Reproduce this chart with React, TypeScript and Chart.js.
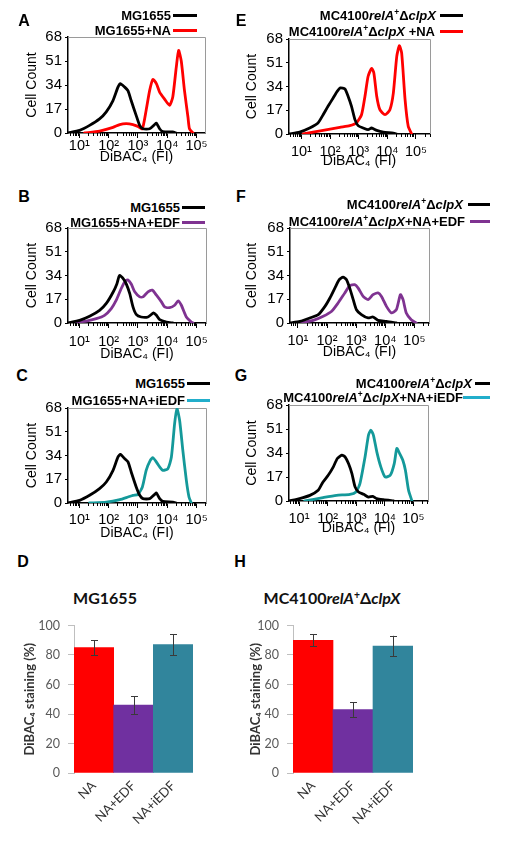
import React, { useEffect, useRef } from "react";
import { Chart, registerables } from "chart.js";

Chart.register(...registerables);

// ---------------- Histogram data (x = log10 DiBAC4 fluorescence, y = cell count) ----------------
// Panel A
const aCtrlX = [0.61, 1.01, 1.35, 1.69, 1.92, 2.15, 2.32, 2.4, 2.55, 2.66, 2.77, 2.94, 3.06, 3.17, 3.4, 3.57, 3.63, 3.74, 3.85, 4.19, 4.31];
const aCtrlY = [0, 1.9, 5.4, 10, 15, 23, 32.5, 35, 32.5, 30, 23, 12.5, 5.4, 3, 3, 6, 7, 3, 1, 0.7, 0];
const aNaX = [1.18, 1.69, 2.15, 2.38, 2.6, 2.83, 3.0, 3.15, 3.28, 3.4, 3.51, 3.63, 3.74, 3.91, 4.08, 4.19, 4.31, 4.39, 4.48, 4.59, 4.71, 4.76, 4.88];
const aNaY = [0, 1.4, 4, 6, 6.6, 6, 4.7, 3, 16, 30, 38, 35, 29, 24, 19.6, 25.5, 46.7, 58.5, 51, 30, 11, 3, 0];
// Panel E
const eCtrlX = [0.57, 0.94, 1.29, 1.58, 1.76, 1.93, 2.11, 2.25, 2.36, 2.52, 2.63, 2.75, 2.87, 2.98, 3.16, 3.33, 3.45, 3.63, 3.86, 4.21, 4.33];
const eCtrlY = [0, 1.4, 4.3, 7.9, 13.8, 19.8, 25.8, 30.5, 33, 32.2, 27, 19.8, 10.3, 6, 4.3, 3.1, 4.3, 2.6, 1.4, 0.7, 0];
const eNaX = [1.06, 1.76, 2.34, 2.69, 2.92, 3.1, 3.22, 3.33, 3.45, 3.53, 3.63, 3.74, 3.92, 4.09, 4.21, 4.33, 4.42, 4.5, 4.62, 4.73, 4.85];
const eNaY = [0, 2.6, 4.8, 6, 7.9, 13.8, 27, 41.3, 47, 43.7, 27, 17.4, 13.8, 17.4, 29.3, 55.6, 63.2, 58, 24.6, 5.5, 0];
// Panel B
const bCtrlX = [0.61, 1.01, 1.35, 1.69, 1.92, 2.15, 2.28, 2.37, 2.49, 2.6, 2.72, 2.83, 2.94, 3.11, 3.34, 3.53, 3.63, 3.74, 3.97, 4.19];
const bCtrlY = [0, 1.9, 4.8, 9, 14, 22, 28, 34, 32, 28, 21, 11.5, 6.2, 4.3, 4.3, 7.2, 5.5, 2.4, 0.7, 0];
const bEdfX = [0.73, 1.24, 1.58, 1.86, 2.09, 2.26, 2.43, 2.58, 2.66, 2.77, 2.89, 3.06, 3.17, 3.34, 3.49, 3.63, 3.8, 3.91, 4.08, 4.25, 4.37, 4.48, 4.65, 4.82, 4.88];
const bEdfY = [0, 1.4, 3.1, 5.5, 10.3, 16.3, 24.7, 30.3, 30.8, 27.9, 22.3, 18.7, 18.7, 22.3, 23.5, 19.9, 15.1, 11.5, 11, 12.7, 15.9, 12.7, 4.3, 0.7, 0];
// Panel F
const fCtrlX = [0.73, 1.07, 1.41, 1.7, 1.93, 2.1, 2.27, 2.42, 2.55, 2.67, 2.78, 2.9, 3.01, 3.18, 3.41, 3.58, 3.75, 4.04, 4.38];
const fCtrlY = [0, 1.2, 3.6, 6, 11.9, 17.9, 25, 31, 32.9, 31, 25, 16.7, 9.5, 6, 3.6, 4.3, 1.9, 1.2, 0];
const fEdfX = [1.07, 1.53, 1.87, 2.16, 2.38, 2.61, 2.78, 2.95, 3.07, 3.24, 3.41, 3.58, 3.75, 3.87, 4.04, 4.21, 4.38, 4.52, 4.61, 4.72, 4.89, 5.06];
const fEdfY = [0, 1.9, 4.8, 8.4, 14.3, 21.5, 26.7, 27.4, 25, 19, 16.7, 20.3, 21.5, 19, 11.9, 7.2, 9.5, 20.3, 16.7, 7.2, 2.4, 0];
// Panel C
const cCtrlX = [0.61, 1.01, 1.35, 1.69, 1.92, 2.15, 2.32, 2.4, 2.55, 2.66, 2.77, 2.94, 3.06, 3.17, 3.4, 3.57, 3.63, 3.74, 3.85, 4.19, 4.31];
const cCtrlY = [0, 1.9, 5.5, 10.3, 15, 23.4, 33, 34.8, 31.7, 29.4, 22.2, 11.5, 5.5, 3.1, 3.1, 6.2, 7.2, 3.1, 1.2, 0.7, 0];
const cIedfX = [1.35, 1.92, 2.38, 2.66, 2.83, 3.0, 3.15, 3.28, 3.42, 3.51, 3.63, 3.74, 3.85, 4.02, 4.14, 4.25, 4.33, 4.42, 4.53, 4.65, 4.74, 4.82];
const cIedfY = [0, 0.7, 2.4, 4.3, 5.5, 6.2, 11.5, 23.4, 30.5, 32.4, 29.3, 25.8, 23.4, 24.6, 32.9, 56.8, 67.5, 59.2, 37.7, 16.2, 4.3, 0];
// Panel G
const gCtrlX = [0.65, 1.02, 1.38, 1.67, 1.84, 2.02, 2.2, 2.34, 2.5, 2.61, 2.73, 2.85, 2.96, 3.08, 3.26, 3.43, 3.58, 3.72, 3.95, 4.31];
const gCtrlY = [0, 1.7, 4, 7.6, 13.5, 18.2, 24.2, 30.1, 32.5, 31.3, 26.5, 19.4, 10, 6.4, 4.7, 2.8, 3.3, 1.7, 0.9, 0];
const gIedfX = [1.2, 1.84, 2.31, 2.78, 2.99, 3.13, 3.31, 3.43, 3.51, 3.6, 3.72, 3.86, 4.01, 4.19, 4.33, 4.42, 4.52, 4.63, 4.72, 4.83, 4.95];
const gIedfY = [0, 2.4, 4, 4.7, 6.4, 12.3, 31.3, 46.7, 50.2, 46.7, 34.8, 24.2, 17, 18.2, 26.5, 37.2, 33.6, 28.9, 21.8, 7.6, 0];

const countTicks = [0, 17, 34, 51, 68];
const decadeTicks = [1, 2, 3, 4, 5];
const decadeLabels = ["10\u00B9", "10\u00B2", "10\u00B3", "10\u2074", "10\u2075"];

// ---------------- Bar data ----------------
const barCategories = ["NA", "NA+EDF", "NA+iEDF"];
const dValues = [85, 46, 87];
const dErrors = [5, 6, 7];
const hValues = [90, 43, 86];
const hErrors = [4, 5, 7];
const stainTicks = [0, 20, 40, 60, 80, 100];

// ---------------- Styles ----------------
const BLACK = "#000000";
const RED = "#FF0000";
const PURPLE = "#7F3391";
const TEAL = "#14999A";
const TEAL_LEG = "#22AECB";
const BAR_COLORS = ["#FF0000", "#7030A0", "#31859C"];
const SANS = '"Liberation Sans", Arial, Helvetica, sans-serif';
const LATO = 'Lato, "Open Sans", sans-serif';

const framePlugin = {
  id: "frame",
  beforeDatasetsDraw(chart: any) {
    const { ctx, chartArea } = chart;
    const { left, top, right, bottom } = chartArea;
    ctx.save();
    ctx.strokeStyle = "#9a9a9a";
    ctx.lineWidth = 1;
    ctx.beginPath();
    ctx.moveTo(left, Math.round(top) + 0.5);
    ctx.lineTo(Math.round(right) + 0.5, Math.round(top) + 0.5);
    ctx.lineTo(Math.round(right) + 0.5, bottom);
    ctx.stroke();
    ctx.restore();
  },
};

const minorTickPlugin = {
  id: "minorTicks",
  afterDraw(chart: any) {
    const xs = chart.scales.x;
    const { ctx } = chart;
    const b = chart.chartArea.bottom;
    ctx.save();
    ctx.strokeStyle = "#000";
    ctx.lineWidth = 1;
    for (let d = Math.floor(xs.min); d <= Math.ceil(xs.max); d++) {
      for (let k = 2; k <= 9; k++) {
        const v = d + Math.log10(k);
        if (v < xs.min || v > xs.max) continue;
        const px = Math.round(xs.getPixelForValue(v)) + 0.5;
        ctx.beginPath();
        ctx.moveTo(px, b);
        ctx.lineTo(px, b + 3);
        ctx.stroke();
      }
    }
    ctx.restore();
  },
};

const errorBarPlugin = {
  id: "errorBars",
  afterDatasetsDraw(chart: any, _args: any, opts: any) {
    const errs: number[] = opts.errors || [];
    const meta = chart.getDatasetMeta(0);
    const ys = chart.scales.y;
    const vals: number[] = chart.data.datasets[0].data;
    const { ctx } = chart;
    ctx.save();
    ctx.strokeStyle = "#3a3a3a";
    ctx.lineWidth = 1;
    vals.forEach((v, i) => {
      const el = meta.data[i];
      if (!el) return;
      const x = Math.round(el.x) + 0.5;
      const t = ys.getPixelForValue(v + errs[i]);
      const b = ys.getPixelForValue(v - errs[i]);
      ctx.beginPath();
      ctx.moveTo(x, t);
      ctx.lineTo(x, b);
      ctx.moveTo(x - 3.5, Math.round(t) + 0.5);
      ctx.lineTo(x + 3.5, Math.round(t) + 0.5);
      ctx.moveTo(x - 3.5, Math.round(b) + 0.5);
      ctx.lineTo(x + 3.5, Math.round(b) + 0.5);
      ctx.stroke();
    });
    ctx.restore();
  },
};

type Area = { l: number; t: number; r: number; b: number };
type HistSpec = {
  left: number;
  top: number;
  w: number;
  h: number;
  area: Area;
  xmin: number;
  xmax: number;
  tickPad: number;
  yTitlePad: number;
};
type Series = { x: number[]; y: number[]; color: string };

function HistPanel({ spec, series }: { spec: HistSpec; series: Series[] }) {
  const ref = useRef<HTMLCanvasElement | null>(null);
  useEffect(() => {
    if (!ref.current) return;
    const { left, top, w, h, area, xmin, xmax, tickPad, yTitlePad } = spec;
    const padTop = area.t - top;
    const chart = new Chart(ref.current, {
      type: "line",
      data: {
        datasets: series.map((s) => ({
          data: s.x.map((x, i) => ({ x, y: s.y[i] })),
          borderColor: s.color,
          borderWidth: 2.8,
          pointRadius: 0,
          tension: 0.2,
          fill: false,
          borderJoinStyle: "round",
          borderCapStyle: "round",
        })),
      } as any,
      options: {
        animation: false,
        responsive: false,
        maintainAspectRatio: false,
        events: [],
        layout: { padding: { top: padTop, right: left + w - area.r, left: 0, bottom: 0 } },
        plugins: { legend: { display: false }, tooltip: { enabled: false } },
        scales: {
          x: {
            type: "linear",
            min: xmin,
            max: xmax,
            afterBuildTicks: (s: any) => {
              s.ticks = decadeTicks.filter((v) => v >= xmin && v <= xmax).map((v) => ({ value: v }));
            },
            afterFit: (s: any) => {
              s.height = h - padTop - (area.b - area.t);
            },
            ticks: {
              callback: (v: any) => decadeLabels[decadeTicks.indexOf(Number(v))],
              font: { family: SANS, size: 14.5 },
              color: "#000",
              padding: tickPad - 1,
              maxRotation: 0,
              autoSkip: false,
            },
            grid: { drawOnChartArea: false, drawTicks: true, tickLength: 5, color: "#000", lineWidth: 1 },
            border: { color: "#000", width: 1.5 },
            title: { display: true, text: "DiBAC\u2084 (FI)", font: { family: SANS, size: 14 }, color: "#000", padding: 0 },
          },
          y: {
            type: "linear",
            min: 0,
            max: 68,
            afterBuildTicks: (s: any) => {
              s.ticks = countTicks.map((v) => ({ value: v }));
            },
            afterFit: (s: any) => {
              s.width = area.l - left;
            },
            ticks: { font: { family: SANS, size: 15 }, color: "#000", padding: 3 },
            grid: { drawOnChartArea: false, tickLength: 3, color: "#000" },
            border: { color: "#000", width: 1.5 },
            title: { display: true, text: "Cell Count", font: { family: SANS, size: 14 }, color: "#000", padding: { top: yTitlePad, bottom: 0 } },
          },
        },
      } as any,
      plugins: [framePlugin, minorTickPlugin],
    });
    return () => chart.destroy();
  }, []);
  return (
    <canvas
      ref={ref}
      width={spec.w}
      height={spec.h}
      style={{ position: "absolute", left: spec.left, top: spec.top, width: spec.w, height: spec.h }}
    />
  );
}

type BarSpec = { left: number; top: number; w: number; h: number; area: Area; yTitlePad: number };

function BarPanel({ spec, values, errors }: { spec: BarSpec; values: number[]; errors: number[] }) {
  const ref = useRef<HTMLCanvasElement | null>(null);
  useEffect(() => {
    if (!ref.current) return;
    const { left, top, w, h, area, yTitlePad } = spec;
    const padTop = area.t - top;
    const chart = new Chart(ref.current, {
      type: "bar",
      data: {
        labels: barCategories,
        datasets: [
          {
            data: values,
            backgroundColor: BAR_COLORS,
            categoryPercentage: 1,
            barPercentage: 1,
            borderWidth: 0,
          },
        ],
      },
      options: {
        animation: false,
        responsive: false,
        maintainAspectRatio: false,
        events: [],
        layout: { padding: { top: padTop, right: left + w - area.r, left: 0, bottom: 0 } },
        plugins: { legend: { display: false }, tooltip: { enabled: false }, errorBars: { errors } },
        scales: {
          x: {
            grid: { display: false, drawTicks: false },
            border: { display: false },
            ticks: { font: { family: LATO, size: 13 }, color: "#333", maxRotation: 45, minRotation: 45, padding: 5, autoSkip: false },
            afterFit: (s: any) => {
              s.height = h - padTop - (area.b - area.t);
            },
          },
          y: {
            min: 0,
            max: 100,
            afterBuildTicks: (s: any) => {
              s.ticks = stainTicks.map((v) => ({ value: v }));
            },
            afterFit: (s: any) => {
              s.width = area.l - left;
            },
            ticks: { font: { family: LATO, size: 12.5 }, color: "#595959", padding: 8 },
            grid: { drawOnChartArea: false, tickLength: 6, color: "#BFBFBF" },
            border: { color: "#BFBFBF", width: 1 },
            title: {
              display: true,
              text: "DiBAC\u2084 staining (%)",
              font: { family: LATO, size: 13, weight: "bold" },
              color: "#333",
              padding: { top: yTitlePad, bottom: 0 },
            },
          },
        },
      } as any,
      plugins: [errorBarPlugin],
    });
    return () => chart.destroy();
  }, []);
  return (
    <canvas
      ref={ref}
      width={spec.w}
      height={spec.h}
      style={{ position: "absolute", left: spec.left, top: spec.top, width: spec.w, height: spec.h }}
    />
  );
}

const Sup = ({ children }: { children: React.ReactNode }) => (
  <span style={{ fontSize: "0.65em", verticalAlign: "0.5em", lineHeight: 0 }}>{children}</span>
);
const I = ({ children }: { children: React.ReactNode }) => <span style={{ fontStyle: "italic" }}>{children}</span>;
const Mutant = () => (
  <>
    MC4100<I>relA</I>
    <Sup>+</Sup>
    {"\u0394"}
    <I>clpX</I>
  </>
);

function LegendRow({ right, y, x1, x2, color, children }: { right: number; y: number; x1: number; x2: number; color: string; children: React.ReactNode }) {
  return (
    <>
      <div
        style={{
          position: "absolute",
          right: 505 - right,
          top: y,
          transform: "translateY(-50%)",
          font: `bold 13px ${SANS}`,
          whiteSpace: "nowrap",
          lineHeight: "15px",
          color: "#000",
        }}
      >
        {children}
      </div>
      <div style={{ position: "absolute", left: x1, width: x2 - x1, top: y - 1.5, height: 3, background: color }} />
    </>
  );
}

function Letter({ x, y, children }: { x: number; y: number; children: React.ReactNode }) {
  return (
    <div
      style={{
        position: "absolute",
        left: x,
        top: y,
        transform: "translate(-50%, -50%)",
        font: `bold 16px ${SANS}`,
        lineHeight: "18px",
        color: "#000",
      }}
    >
      {children}
    </div>
  );
}

const specA: HistSpec = { left: 0, top: 25, w: 240, h: 141, area: { l: 68, t: 37, r: 205, b: 133 }, xmin: 0.614, xmax: 5.29, tickPad: 0, yTitlePad: 24 };
const specE: HistSpec = { left: 240, top: 25, w: 265, h: 145, area: { l: 289, t: 39, r: 430, b: 134 }, xmin: 0.568, xmax: 5.49, tickPad: 5, yTitlePad: 3.6 };
const specB: HistSpec = { left: 0, top: 215, w: 240, h: 148, area: { l: 68, t: 228, r: 206, b: 323 }, xmin: 0.614, xmax: 5.32, tickPad: 6, yTitlePad: 24 };
const specF: HistSpec = { left: 240, top: 215, w: 265, h: 146, area: { l: 290, t: 228, r: 429, b: 323 }, xmin: 0.73, xmax: 5.5, tickPad: 5, yTitlePad: 3.6 };
const specC: HistSpec = { left: 0, top: 395, w: 240, h: 147, area: { l: 68, t: 408, r: 206, b: 503 }, xmin: 0.614, xmax: 5.32, tickPad: 4, yTitlePad: 24 };
const specG: HistSpec = { left: 240, top: 392, w: 265, h: 145, area: { l: 289, t: 405, r: 428, b: 501 }, xmin: 0.65, xmax: 5.51, tickPad: 5, yTitlePad: 3.6 };
const specD: BarSpec = { left: 0, top: 610, w: 240, h: 231, area: { l: 74, t: 625, r: 193, b: 773 }, yTitlePad: 22 };
const specH: BarSpec = { left: 240, top: 610, w: 265, h: 231, area: { l: 293, t: 625, r: 413, b: 773 }, yTitlePad: 8 };

export default function App() {
  return (
    <div style={{ position: "absolute", left: 0, top: 0, width: 505, height: 841, background: "#fff", overflow: "hidden" }}>
      <HistPanel spec={specA} series={[{ x: aCtrlX, y: aCtrlY, color: BLACK }, { x: aNaX, y: aNaY, color: RED }]} />
      <HistPanel spec={specE} series={[{ x: eCtrlX, y: eCtrlY, color: BLACK }, { x: eNaX, y: eNaY, color: RED }]} />
      <HistPanel spec={specB} series={[{ x: bCtrlX, y: bCtrlY, color: BLACK }, { x: bEdfX, y: bEdfY, color: PURPLE }]} />
      <HistPanel spec={specF} series={[{ x: fCtrlX, y: fCtrlY, color: BLACK }, { x: fEdfX, y: fEdfY, color: PURPLE }]} />
      <HistPanel spec={specC} series={[{ x: cCtrlX, y: cCtrlY, color: BLACK }, { x: cIedfX, y: cIedfY, color: TEAL }]} />
      <HistPanel spec={specG} series={[{ x: gCtrlX, y: gCtrlY, color: BLACK }, { x: gIedfX, y: gIedfY, color: TEAL }]} />
      <BarPanel spec={specD} values={dValues} errors={dErrors} />
      <BarPanel spec={specH} values={hValues} errors={hErrors} />

      <Letter x={24} y={21}>A</Letter>
      <Letter x={241} y={21}>E</Letter>
      <Letter x={24} y={197}>B</Letter>
      <Letter x={241} y={197}>F</Letter>
      <Letter x={22} y={376}>C</Letter>
      <Letter x={241} y={376}>G</Letter>
      <Letter x={23} y={562}>D</Letter>
      <Letter x={240} y={562}>H</Letter>

      <LegendRow right={171} y={15} x1={173} x2={197} color={BLACK}>MG1655</LegendRow>
      <LegendRow right={171} y={30} x1={173} x2={197} color={RED}>MG1655+NA</LegendRow>
      <LegendRow right={436} y={15} x1={440} x2={463} color={BLACK}><Mutant /></LegendRow>
      <LegendRow right={435} y={31} x1={440} x2={463} color={RED}><Mutant /> +NA</LegendRow>

      <LegendRow right={180} y={207} x1={182} x2={205} color={BLACK}>MG1655</LegendRow>
      <LegendRow right={180} y={222} x1={182} x2={205} color={PURPLE}>MG1655+NA+EDF</LegendRow>
      <LegendRow right={463} y={204} x1={468} x2={490} color={BLACK}><Mutant /></LegendRow>
      <LegendRow right={465} y={221} x1={470} x2={490} color={PURPLE}><Mutant />+NA+EDF</LegendRow>

      <LegendRow right={185} y={383} x1={187} x2={210} color={BLACK}>MG1655</LegendRow>
      <LegendRow right={185} y={400} x1={187} x2={210} color={TEAL_LEG}>MG1655+NA+iEDF</LegendRow>
      <LegendRow right={472} y={383} x1={475} x2={490} color={BLACK}><Mutant /></LegendRow>
      <LegendRow right={463} y={397} x1={463} x2={490} color={TEAL_LEG}><Mutant />+NA+iEDF</LegendRow>

      <div style={{ position: "absolute", left: 105, top: 598, transform: "translate(-50%, -50%)", font: `bold 16px ${LATO}`, color: "#111", whiteSpace: "nowrap", lineHeight: "18px" }}>
        MG1655
      </div>
      <div style={{ position: "absolute", left: 332, top: 598, transform: "translate(-50%, -50%)", font: `bold 16px ${LATO}`, color: "#111", whiteSpace: "nowrap", lineHeight: "18px" }}>
        <Mutant />
      </div>
    </div>
  );
}
